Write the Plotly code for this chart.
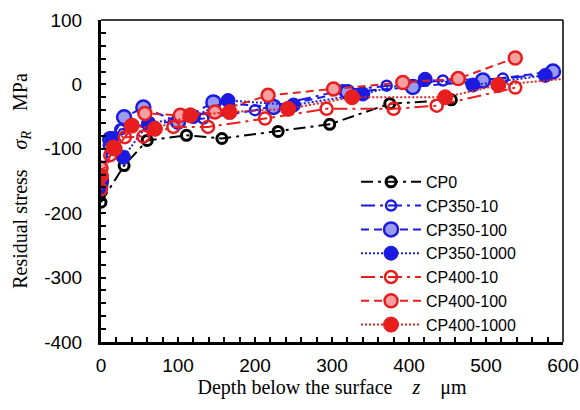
import plotly.graph_objects as go

# ---- data (depth z in µm, residual stress in MPa) ----
cp0_z = [0, 30, 60, 111, 157, 230, 297, 375, 455]
cp0_s = [-183, -126, -87, -79, -84, -73, -62, -30, -24]

cp350_10_z = [0, 10, 25, 60, 133, 200, 314, 371, 444, 522, 580]
cp350_10_s = [-162, -95, -70, -62, -53, -40, -9, -2, 6, 9, 16]

cp350_100_z = [0, 12, 30, 55, 100, 146, 224, 320, 405, 496, 587]
cp350_100_s = [-150, -85, -51, -36, -58, -28, -35, -12, -4, 6, 20]

cp350_1000_z = [0, 14, 29, 62, 120, 165, 250, 340, 421, 483, 577]
cp350_1000_s = [-157, -84, -113, -60, -50, -25, -32, -15, 8, -1, 14]

cp400_10_z = [0, 12, 31, 55, 94, 139, 213, 293, 380, 436, 538]
cp400_10_s = [-163, -110, -82, -81, -66, -66, -53, -38, -38, -33, -5]

cp400_100_z = [0, 18, 57, 103, 148, 217, 302, 392, 464, 538]
cp400_100_s = [-130, -100, -45, -48, -43, -17, -7, 3, 9, 41]

cp400_1000_z = [0, 16, 40, 70, 116, 167, 243, 326, 447, 516, 640]
cp400_1000_s = [-142, -98, -64, -69, -48, -43, -38, -20, -20, -1, 13]

names = ["CP0", "CP350-10", "CP350-100", "CP350-1000", "CP400-10", "CP400-100", "CP400-1000"]

y_ticks = [100, 0, -100, -200, -300, -400]
x_ticks = [0, 100, 200, 300, 400, 500, 600]

BLACK = "#000000"
BLUE = "#1a1ae0"
RED = "#e81e1e"
LBLUE = "#9a9af0"
PINK = "#f4a0a0"

DASHDOT = "12px,5px,3px,5px"
LONGDASHDOT = "14px,5px,3px,5px"
DASH = "8px,5px"
DOT = "2px,2px"

series = [
    (cp0_z, cp0_s, BLACK, DASHDOT, dict(symbol="circle-open", size=10, color=BLACK, line=dict(width=3, color=BLACK))),
    (cp350_10_z, cp350_10_s, BLUE, LONGDASHDOT, dict(symbol="circle-open", size=10, color=BLUE, line=dict(width=2.5, color=BLUE))),
    (cp350_100_z, cp350_100_s, BLUE, DASH, dict(symbol="circle", size=14, color=LBLUE, line=dict(width=2.5, color=BLUE))),
    (cp350_1000_z, cp350_1000_s, BLUE, DOT, dict(symbol="circle", size=14, color=BLUE, line=dict(width=1, color=BLUE))),
    (cp400_10_z, cp400_10_s, RED, LONGDASHDOT, dict(symbol="circle-open", size=12, color=RED, line=dict(width=2.5, color=RED))),
    (cp400_100_z, cp400_100_s, RED, DASH, dict(symbol="circle", size=13, color=PINK, line=dict(width=2.5, color=RED))),
    (cp400_1000_z, cp400_1000_s, RED, DOT, dict(symbol="circle", size=15, color=RED, line=dict(width=1, color=RED))),
]

fig = go.Figure()
for name, (zz, ss, col, dash, mk) in zip(names, series):
    fig.add_trace(go.Scatter(
        x=zz, y=ss, name=name, mode="lines+markers",
        line=dict(color=col, width=2, dash=dash),
        marker=mk, cliponaxis=True,
    ))

tick_font = dict(family="Liberation Sans, Arial", size=19, color="black")
title_font = dict(family="Liberation Serif, Times New Roman", size=20, color="black")
sp = "\u00a0" * 4

fig.update_layout(
    width=580, height=410,
    margin=dict(l=101, r=17, t=20, b=68, autoexpand=False),
    paper_bgcolor="white", plot_bgcolor="white",
    showlegend=True,
    legend=dict(
        x=0.552, y=0.55, xanchor="left", yanchor="top",
        bgcolor="rgba(0,0,0,0)", borderwidth=0,
        font=dict(family="Liberation Sans, Arial", size=16, color="black"),
        itemwidth=60, tracegroupgap=0,
    ),
    xaxis=dict(
        range=[0, 600], tickvals=x_ticks, ticktext=[str(v) for v in x_ticks],
        ticks="inside", ticklen=5, tickwidth=2, tickcolor="black",
        minor=dict(dtick=20, ticks="inside", ticklen=5, tickwidth=2, tickcolor="black"),
        showline=True, linecolor="black", linewidth=3,
        showgrid=False, zeroline=False, tickfont=tick_font,
        ticklabelstandoff=4,
        title=dict(text="Depth below the surface" + sp + "<i>z</i>" + sp + "\u03bcm", font=title_font, standoff=4),
    ),
    yaxis=dict(
        range=[-400, 100], tickvals=y_ticks, ticktext=[str(v) for v in y_ticks],
        ticks="inside", ticklen=5, tickwidth=2, tickcolor="black",
        minor=dict(dtick=20, ticks="inside", ticklen=5, tickwidth=2, tickcolor="black"),
        showline=True, linecolor="black", linewidth=3,
        showgrid=False, zeroline=False, tickfont=tick_font,
        ticklabelstandoff=12,
        title=dict(text="Residual stress" + sp + "<i>\u03c3<sub>R</sub></i>" + sp + "MPa", font=title_font, standoff=12),
    ),
    shapes=[
        dict(type="line", xref="paper", yref="paper", x0=0, x1=1, y0=1, y1=1, line=dict(color="black", width=1.5)),
        dict(type="line", xref="paper", yref="paper", x0=1, x1=1, y0=0, y1=1, line=dict(color="black", width=1.5)),
    ],
)

fig.write_html("out.html", config={"displayModeBar": False},
               post_script="document.body.style.margin='0';")
